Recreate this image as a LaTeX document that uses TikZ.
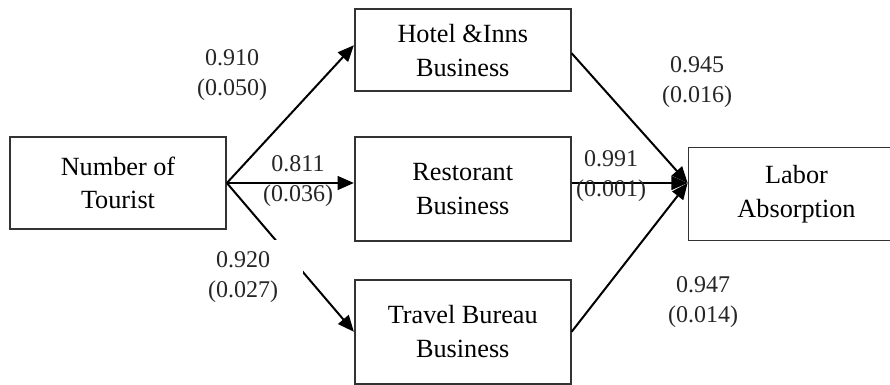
\documentclass[tikz,border=0pt]{standalone}
\usepackage{fontspec}
\setmainfont{Liberation Serif}
\usepackage{tikz}
\usetikzlibrary{positioning,arrows.meta}

\begin{document}
\begin{tikzpicture}[
  x=0.4pt, y=-0.4pt,
  box/.style={draw=black!80, line width=0.7pt, minimum width=86.4pt,
              align=center, inner sep=0pt,
              font=\fontsize{10.5}{13.5}\selectfont},
  coef/.style={align=center, inner sep=1pt, text=black!85,
               font=\fontsize{9.6}{12.2}\selectfont},
  arr/.style={-{Triangle[length=6.5pt,width=5.5pt]}, line width=0.8pt}
]
  \useasboundingbox (0,0) rectangle (890,385);

  \node[box, minimum height=36.8pt] (tour) at (118,183) {Number of\\Tourist};
  \node[box, minimum height=41.6pt, right=50.8pt of tour, yshift=-2.4pt] (rest) {Restorant\\Business};
  \node[box, minimum height=32.8pt, above=17.6pt of rest] (hotel) {Hotel \&Inns\\Business};
  \node[box, minimum height=41.6pt, below=14.8pt of rest] (trav) {Travel Bureau\\Business};
  \node[box, minimum height=37.2pt, right=46.4pt of rest, yshift=-2pt] (labor) {Labor\\Absorption};

  \draw[arr] (tour.east) -- ([yshift=2pt]hotel.west);
  \draw[arr] (tour.east) -- (rest.west |- tour.east);
  \draw[arr] (tour.east) -- (trav.west);

  \draw[arr] ([yshift=-1.2pt]hotel.east) -- (labor.west |- tour.east);
  \draw[arr] (rest.east |- tour.east) -- (labor.west |- tour.east);
  \draw[arr] (trav.east) -- (labor.west |- tour.east);

  \node[coef] (c1) at (232,75)  {0.910\\(0.050)};
  \node[coef] (c2) at (298,181) {0.811\\(0.036)};
  \node[coef, fill=white, minimum width=48pt, minimum height=29.6pt] (c3) at (243,277) {0.920\\(0.027)};
  \node[coef] (c4) at (611,176) {0.991\\(0.001)};
  \node[coef] (c5) at (697,82)  {0.945\\(0.016)};
  \node[coef] (c6) at (703,302) {0.947\\(0.014)};
\end{tikzpicture}
\end{document}
